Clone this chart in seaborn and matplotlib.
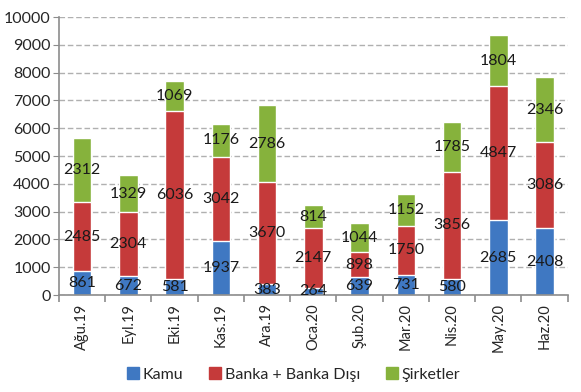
import numpy as np
import pandas as pd
import matplotlib
matplotlib.use("Agg")
import matplotlib.pyplot as plt
import seaborn as sns
from matplotlib.patches import Patch

# data
months = ["Ağu.19", "Eyl.19", "Eki.19", "Kas.19", "Ara.19", "Oca.20",
          "Şub.20", "Mar.20", "Nis.20", "May.20", "Haz.20"]
kamu = [861, 672, 581, 1937, 383, 264, 639, 731, 580, 2685, 2408]
banka = [2485, 2304, 6036, 3042, 3670, 2147, 898, 1750, 3856, 4847, 3086]
sirket = [2312, 1329, 1069, 1176, 2786, 814, 1044, 1152, 1785, 1804, 2346]

c_blue = "#3f78c2"
c_red = "#c53a3a"
c_green = "#86b23c"

df = pd.DataFrame({"Ay": months, "Kamu": kamu, "Banka": banka, "Sirket": sirket})
df["kb"] = df["Kamu"] + df["Banka"]
df["total"] = df["kb"] + df["Sirket"]

sns.set_style("white")
plt.rcParams["font.family"] = ["Lato", "DejaVu Sans"]

fig = plt.figure(figsize=(5.81, 3.92), dpi=100)
ax = fig.add_axes([0.1015, 0.2474, 0.8755, 0.7092])

# stacked bars drawn as overlapping cumulative totals
sns.barplot(data=df, x="Ay", y="total", color=c_green, width=0.4, saturation=1, ax=ax)
sns.barplot(data=df, x="Ay", y="kb", color=c_red, width=0.4, saturation=1, ax=ax)
sns.barplot(data=df, x="Ay", y="Kamu", color=c_blue, width=0.4, saturation=1, ax=ax)

# value labels
for i in range(len(df)):
    k, b, s = df["Kamu"][i], df["Banka"][i], df["Sirket"][i]
    ax.text(i, k / 2, f"{k}", ha="center", va="center", fontsize=11.5, color="#1a1a1a")
    ax.text(i, k + b / 2, f"{b}", ha="center", va="center", fontsize=11.5, color="#1a1a1a")
    ax.text(i, k + b + s / 2, f"{s}", ha="center", va="center", fontsize=11.5, color="#1a1a1a")

ax.set_ylim(0, 10000)
ax.set_xlim(-0.5, len(df) - 0.5)
ax.set_yticks(range(0, 10001, 1000))
ax.yaxis.grid(True, color="#b0b0b0", linestyle=(0, (4, 2)), linewidth=1)
ax.set_axisbelow(True)
ax.set_xlabel("")
ax.set_ylabel("")

for side in ["top", "right"]:
    ax.spines[side].set_visible(False)
for side in ["left", "bottom"]:
    ax.spines[side].set_color("#8c8c8c")
    ax.spines[side].set_linewidth(1.2)

ax.tick_params(axis="y", labelsize=11.5, length=4, color="#8c8c8c", left=True, pad=2)
ax.tick_params(axis="x", labelsize=10.5, length=0, pad=6)
plt.setp(ax.get_xticklabels(), rotation=90)
ax.set_xticks(np.arange(-0.5, len(df), 1), minor=True)
ax.tick_params(axis="x", which="minor", length=5, color="#8c8c8c", width=1.2, bottom=True)

handles = [Patch(color=c_blue, label="Kamu"),
           Patch(color=c_red, label="Banka + Banka Dışı"),
           Patch(color=c_green, label="Şirketler")]
fig.legend(handles=handles, loc="lower center", bbox_to_anchor=(0.505, -0.01), ncol=3,
           frameon=False, fontsize=11.5, handlelength=0.75, handleheight=0.75,
           handletextpad=0.25, columnspacing=1.6)

fig.savefig("out.png", dpi=100)
